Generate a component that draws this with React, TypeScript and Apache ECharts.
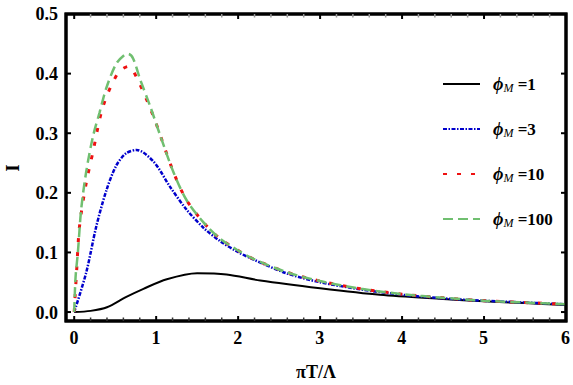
import React, { useEffect, useRef } from "react";
import * as echarts from "echarts";

const seriesNames = ["1", "3", "10", "100"];

const xMajorTicks = [0, 1, 2, 3, 4, 5, 6];
const xMinorTicks = [0.2, 0.4, 0.6, 0.8, 1.2, 1.4, 1.6, 1.8, 2.2, 2.4, 2.6, 2.8, 3.2, 3.4, 3.6, 3.8, 4.2, 4.4, 4.6, 4.8, 5.2, 5.4, 5.6, 5.8];
const yMajorTicks = [0, 0.1, 0.2, 0.3, 0.4, 0.5];

const x1 = [0, 0.2, 0.4, 0.63, 0.845, 1.13, 1.5, 1.86, 2.27, 3.0, 3.73, 4.5, 5.0, 5.5, 6.0];
const y1 = [0, 0.002, 0.008, 0.025, 0.039, 0.055, 0.065, 0.063, 0.053, 0.04, 0.029, 0.022, 0.018, 0.015, 0.012];

const x3 = [0, 0.146, 0.27, 0.39, 0.51, 0.63, 0.76, 0.97, 1.17, 1.37, 1.58, 1.78, 1.98, 2.19, 2.59, 3.0, 3.5, 4.0, 4.5, 5.0, 5.5, 6.0];
const y3 = [0, 0.066, 0.144, 0.203, 0.245, 0.266, 0.272, 0.252, 0.21, 0.172, 0.141, 0.119, 0.102, 0.088, 0.065, 0.05, 0.038, 0.029, 0.023, 0.019, 0.016, 0.013];

const x10 = [0, 0.03, 0.065, 0.146, 0.228, 0.35, 0.53, 0.66, 0.76, 0.97, 1.21, 1.37, 1.58, 1.78, 1.98, 2.19, 2.59, 3.0, 3.5, 4.0, 4.5, 5.0, 5.5, 6.0];
const y10 = [0, 0.07, 0.144, 0.216, 0.268, 0.344, 0.4, 0.412, 0.394, 0.327, 0.235, 0.188, 0.15, 0.123, 0.105, 0.089, 0.067, 0.052, 0.039, 0.03, 0.024, 0.019, 0.016, 0.013];

const x100 = [0, 0.01, 0.02, 0.045, 0.085, 0.146, 0.228, 0.31, 0.39, 0.51, 0.61, 0.66, 0.72, 0.8, 0.93, 1.05, 1.21, 1.37, 1.58, 1.78, 1.98, 2.19, 2.59, 3.0, 3.5, 4.0, 4.5, 5.0, 5.5, 6.0];
const y100 = [0, 0.04, 0.065, 0.1, 0.172, 0.235, 0.294, 0.335, 0.375, 0.416, 0.431, 0.433, 0.425, 0.392, 0.344, 0.296, 0.235, 0.188, 0.15, 0.123, 0.105, 0.089, 0.067, 0.052, 0.039, 0.03, 0.024, 0.019, 0.016, 0.013];

const pairs = (xs: number[], ys: number[]) => xs.map((x, i) => [x, ys[i]]);

const FONT = "'Liberation Serif', 'Times New Roman', serif";
const BLACK = "#000000";

export default function App() {
  const ref = useRef<HTMLDivElement>(null);
  useEffect(() => {
    document.body.style.margin = "0";
    const chart = echarts.init(ref.current!, null, { renderer: "svg" });
    const labelStyle = () => ({ color: BLACK, fontFamily: FONT, fontWeight: "bold", fontSize: 18 });
    const lineSeries = (name: string, data: number[][], color: string, width: number, type: any) => ({
      name,
      type: "line",
      data,
      symbol: "none",
      smooth: 0.3,
      xAxisIndex: 0,
      yAxisIndex: 0,
      lineStyle: { color, width, type },
      itemStyle: { color },
    });
    const frameSeries = {
      type: "custom",
      name: "frame",
      xAxisIndex: 0,
      yAxisIndex: 0,
      silent: true,
      clip: false,
      z: 5,
      data: [[0, 0]],
      renderItem: (params: any, api: any) => {
        const cs = params.coordSys;
        const left = cs.x, top = cs.y, right = cs.x + cs.width, bottom = cs.y + cs.height;
        const children: any[] = [
          { type: "rect", shape: { x: left, y: top, width: cs.width, height: cs.height }, style: { fill: "none", stroke: BLACK, lineWidth: 3 } },
        ];
        const tickLine = (x1: number, y1: number, x2: number, y2: number, color: string, w: number) =>
          children.push({ type: "line", shape: { x1, y1, x2, y2 }, style: { stroke: color, lineWidth: w } });
        xMajorTicks.forEach((v) => {
          const px = api.coord([v, 0])[0];
          tickLine(px, bottom, px, bottom - 5, BLACK, 2);
          tickLine(px, top, px, top + 5, BLACK, 2);
        });
        xMinorTicks.forEach((v) => {
          const px = api.coord([v, 0])[0];
          tickLine(px, bottom, px, bottom - 3.5, "#333333", 1.5);
          tickLine(px, top, px, top + 3.5, "#999999", 1.5);
        });
        yMajorTicks.forEach((v) => {
          const py = api.coord([0, v])[1];
          tickLine(left, py, left + 5, py, BLACK, 2);
          tickLine(right, py, right - 5, py, BLACK, 2);
        });
        return { type: "group", children };
      },
    };
    chart.setOption({
      animation: false,
      grid: [
        { left: 66, right: 7, top: 14, bottom: 64, show: true, borderColor: BLACK, borderWidth: 3 },
        { left: 74, right: 7, top: 14, bottom: 72, show: false },
      ],
      xAxis: [
        { type: "value", gridIndex: 0, min: -0.1, max: 6, show: false },
        {
          type: "value", gridIndex: 1, min: 0, max: 6, interval: 1, position: "bottom", offset: 8,
          axisLine: { show: false, onZero: false }, splitLine: { show: false },
          axisTick: { show: false },
          axisLabel: { ...labelStyle(), margin: 8 },
        },
      ],
      yAxis: [
        { type: "value", gridIndex: 0, min: -0.015, max: 0.5, show: false },
        {
          type: "value", gridIndex: 1, min: 0, max: 0.5, interval: 0.1, position: "left", offset: 8,
          axisLine: { show: false, onZero: false }, splitLine: { show: false },
          axisTick: { show: false },
          axisLabel: { ...labelStyle(), margin: 8, formatter: (v: number) => v.toFixed(1) },
        },
      ],
      legend: {
        orient: "vertical",
        left: 437,
        top: 70,
        itemWidth: 37,
        itemHeight: 14,
        itemGap: 26,
        data: seriesNames,
        itemStyle: { opacity: 0 },
        formatter: (name: string) => `{p|ϕ}{m|M}{t| =${name}}`,
        textStyle: {
          padding: [0, 0, 0, 8],
          rich: {
            p: { fontFamily: FONT, fontStyle: "italic", fontWeight: "bold", fontSize: 18, color: BLACK, lineHeight: 20 },
            m: { fontFamily: FONT, fontStyle: "italic", fontSize: 12, color: BLACK, lineHeight: 20, verticalAlign: "bottom", padding: [7, 0, 0, 0] },
            t: { fontFamily: FONT, fontWeight: "bold", fontSize: 17, color: BLACK, lineHeight: 20 },
          },
        },
      },
      graphic: [
        {
          type: "text",
          x: 316,
          y: 372,
          style: { text: "πT/Λ", fontFamily: FONT, fontWeight: "bold", fontSize: 18, fill: BLACK, align: "center", verticalAlign: "middle" },
        },
        {
          type: "text",
          x: 13,
          y: 168,
          rotation: Math.PI / 2,
          style: { text: "I", fontFamily: FONT, fontWeight: "bold", fontSize: 18, fill: BLACK, align: "center", verticalAlign: "middle" },
        },
      ],
      series: [
        lineSeries(seriesNames[0], pairs(x1, y1), BLACK, 2, "solid"),
        lineSeries(seriesNames[1], pairs(x3, y3), "#0000cc", 2.5, [4, 1.5, 1.5, 1.5]),
        lineSeries(seriesNames[2], pairs(x10, y10), "#ee1111", 3, [4, 10]),
        lineSeries(seriesNames[3], pairs(x100, y100), "#70bf70", 2.5, [10, 5]),
        frameSeries,
      ],
    });
    return () => chart.dispose();
  }, []);
  return <div ref={ref} style={{ width: 573, height: 385 }} />;
}
